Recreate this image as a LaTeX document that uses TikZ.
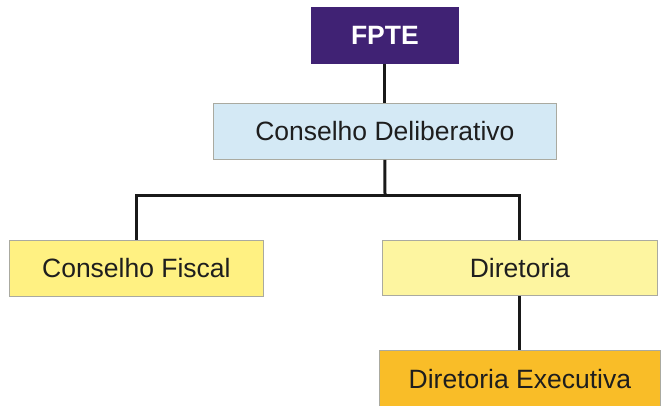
\documentclass[tikz,border=0pt]{standalone}
\usepackage{fontspec}
\setmainfont{Liberation Sans}
\definecolor{fpte}{RGB}{64,34,116}
\definecolor{cdblue}{RGB}{212,233,245}
\definecolor{cfyel}{RGB}{255,241,130}
\definecolor{diryel}{RGB}{253,245,160}
\definecolor{deorg}{RGB}{249,189,40}
\definecolor{edge}{RGB}{170,170,160}
\definecolor{txt}{RGB}{30,30,30}
\begin{document}
\begin{tikzpicture}[x=1pt,y=-1pt,
  box/.style={draw=edge,line width=0.8pt,anchor=north west,inner sep=0pt,
    font=\fontsize{26.5}{30}\selectfont,text=txt},
  conn/.style={line width=3pt,draw=black!90}]
\useasboundingbox (0,0) rectangle (661,405);
\node[box,fill=fpte,draw=fpte,text=white,font=\fontsize{26.5}{30}\selectfont\bfseries,
  minimum width=147pt,minimum height=56pt] (fpte) at (311,7) {FPTE};
\node[box,fill=cdblue,minimum width=343pt,minimum height=56pt] (cd) at (213,103) {Conselho Deliberativo};
\node[box,fill=cfyel,minimum width=254pt,minimum height=56pt] (cf) at (9,240) {Conselho Fiscal};
\node[box,fill=diryel,minimum width=275pt,minimum height=55pt] (dir) at (382,240) {Diretoria};
\node[box,fill=deorg,minimum width=281pt,minimum height=58pt] (de) at (379,350) {Diretoria Executiva};
\coordinate (j) at (385,195);
\draw[conn] (fpte.south) -- (cd.north);
\draw[conn] (cd.south) -- (j);
\draw[conn] (j) -| (cf.north);
\draw[conn] (j) -| (dir.north);
\draw[conn] (dir.south) -- (de.north);
\end{tikzpicture}
\end{document}
